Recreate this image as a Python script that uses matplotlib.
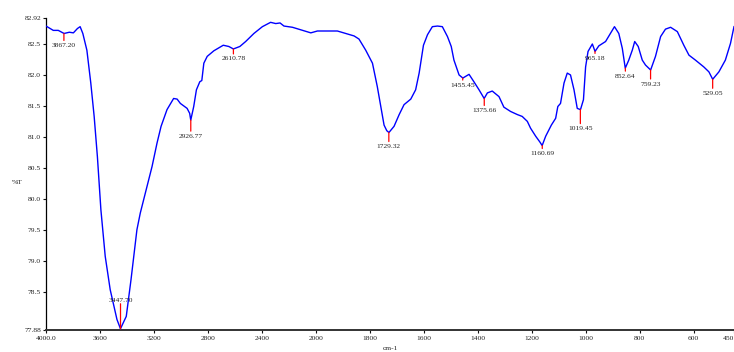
import numpy as np
import matplotlib
matplotlib.use("Agg")
import matplotlib.pyplot as plt

# ---- data ----
wavenumber = [4000, 3946, 3909, 3866, 3827, 3797, 3767, 3747, 3727, 3697, 3668, 3643, 3619, 3593,
              3561, 3524, 3474, 3448, 3405, 3370, 3326, 3301, 3251, 3214, 3177, 3147, 3103, 3054,
              3028, 3004, 2954, 2935, 2927, 2905, 2885, 2860, 2845, 2830, 2805, 2756, 2686, 2645,
              2611, 2563, 2520, 2459, 2396, 2335, 2297, 2265, 2236, 2173, 2112, 2037, 1994, 1920,
              1889, 1858, 1840, 1815, 1790, 1772, 1759, 1747, 1737, 1729, 1710, 1691, 1673, 1648,
              1630, 1617, 1601, 1586, 1568, 1549, 1531, 1512, 1498, 1488, 1469, 1455, 1432, 1414,
              1395, 1376, 1364, 1346, 1321, 1303, 1278, 1253, 1235, 1216, 1204, 1185, 1170, 1161,
              1148, 1127, 1111, 1103, 1093, 1080, 1068, 1056, 1043, 1031, 1019, 1008, 1000, 991,
              975, 965, 951, 926, 907, 893, 877, 864, 853, 840, 827, 818, 805, 790, 778, 759, 741,
              722, 704, 685, 660, 636, 617, 593, 562, 543, 529, 506, 482, 463, 450]
transmittance = [82.79, 82.72, 82.72, 82.67, 82.69, 82.68, 82.75, 82.78, 82.67, 82.40, 81.87, 81.33,
                 80.68, 79.82, 79.07, 78.53, 78.05, 77.90, 78.10, 78.69, 79.50, 79.77, 80.20, 80.52,
                 80.90, 81.17, 81.44, 81.62, 81.61, 81.54, 81.46, 81.38, 81.27, 81.49, 81.76, 81.89,
                 81.91, 82.19, 82.30, 82.39, 82.48, 82.46, 82.42, 82.46, 82.54, 82.67, 82.78, 82.85,
                 82.83, 82.84, 82.79, 82.77, 82.73, 82.68, 82.71, 82.71, 82.67, 82.63, 82.58, 82.40,
                 82.19, 81.81, 81.49, 81.19, 81.10, 81.07, 81.17, 81.36, 81.52, 81.61, 81.76, 82.03,
                 82.48, 82.65, 82.78, 82.79, 82.78, 82.62, 82.46, 82.24, 82.00, 81.95, 82.01, 81.89,
                 81.76, 81.62, 81.71, 81.74, 81.65, 81.48, 81.41, 81.36, 81.33, 81.25, 81.14, 81.01,
                 80.92, 80.86, 81.01, 81.19, 81.30, 81.49, 81.54, 81.87, 82.03, 82.00, 81.76, 81.46,
                 81.44, 81.60, 82.13, 82.38, 82.50, 82.38, 82.47, 82.54, 82.68, 82.78, 82.67, 82.43,
                 82.11, 82.24, 82.40, 82.54, 82.46, 82.24, 82.16, 82.08, 82.30, 82.62, 82.74, 82.77,
                 82.70, 82.48, 82.32, 82.24, 82.13, 82.05, 81.93, 82.05, 82.24, 82.51, 82.78]

peak_wn = [3867.20, 3447.70, 2926.77, 2610.78, 1729.32, 1455.45, 1375.66, 1160.69,
           1019.45, 965.18, 852.64, 759.23, 529.05]
peak_T = [82.67, 77.90, 81.27, 82.42, 81.07, 81.95, 81.62, 80.86,
          81.44, 82.38, 82.11, 82.08, 81.93]
peak_labels = ["3867.20", "3447.70", "2926.77", "2610.78", "1729.32", "1455.45", "1375.66",
               "1160.69", "1019.45", "965.18", "852.64", "759.23", "529.05"]

x_ticks = [4000, 3600, 3200, 2800, 2400, 2000, 1800, 1600, 1400, 1200, 1000, 800, 600, 450]
x_ticklabels = ["4000.0", "3600", "3200", "2800", "2400", "2000", "1800", "1600", "1400",
                "1200", "1000", "800", "600", "450"]
y_ticks = [82.92, 82.5, 82.0, 81.5, 81.0, 80.5, 80.0, 79.5, 79.0, 78.5, 77.88]
y_ticklabels = ["82.92", "82.5", "82.0", "81.5", "81.0", "80.5", "80.0", "79.5", "79.0",
                "78.5", "77.88"]

# ---- style ----
marker_len_px = [7, -25, 11, 5, 9, 2, 7, 3, 14, 2, 3, 9, 9]
FONT = "Liberation Serif"
FS = 5.4
TXT = "#222222"

plt.rcParams["font.family"] = [FONT, "DejaVu Serif"]

W, H = 734, 352
fig = plt.figure(figsize=(W / 100, H / 100), dpi=100)
ax = fig.add_axes([46 / W, (H - 330) / H, (W - 46) / W, (330 - 18) / H])


def fwd(w):
    w = np.asarray(w, dtype=float)
    return np.where(w > 2000, 2000 + (w - 2000) * 0.5, w)


def inv(u):
    u = np.asarray(u, dtype=float)
    return np.where(u > 2000, 2000 + (u - 2000) * 2.0, u)


ax.set_xscale("function", functions=(fwd, inv))
ax.plot(wavenumber, transmittance, color="#0000ff", lw=1.0, solid_joinstyle="round", zorder=3)
ax.set_xlim(4000, 450)
ax.set_ylim(77.88, 82.92)

for w, t, lab, L in zip(peak_wn, peak_T, peak_labels, marker_len_px):
    ax.annotate("", xy=(w, t), xytext=(0, -L), textcoords="offset pixels",
                arrowprops=dict(arrowstyle="-", color="#ff0000", lw=0.9, shrinkA=0, shrinkB=0),
                zorder=4)
    off = -(L + 5) if L > 0 else -(L - 3)
    ax.annotate(lab, xy=(w, t), xytext=(0, off), textcoords="offset pixels",
                ha="center", va="center", fontsize=FS, color=TXT, zorder=5)

ax.set_xticks(x_ticks)
ax.set_xticklabels(x_ticklabels)
ax.set_yticks(y_ticks)
ax.set_yticklabels(y_ticklabels)
ax.minorticks_off()
ax.tick_params(axis="both", labelsize=FS, colors="#111111", labelcolor=TXT,
               length=2.5, width=0.8, direction="out")
ax.tick_params(axis="x", pad=2)
ax.tick_params(axis="y", pad=1)
# keep the last tick label inside the figure
ax.get_xticklabels()[-1].set_horizontalalignment("right")

for s in ["top", "right"]:
    ax.spines[s].set_visible(False)
ax.spines["left"].set_linewidth(0.9)
ax.spines["bottom"].set_linewidth(1.4)
ax.spines["bottom"].set_color("#333333")

fig.text(17 / W, 1 - 182 / H, "%T", fontsize=FS, color=TXT, ha="center", va="center")
fig.text(390 / W, 1 - 349 / H, "cm-1", fontsize=FS, color=TXT, ha="center", va="center")

fig.savefig("out.png", dpi=100)
